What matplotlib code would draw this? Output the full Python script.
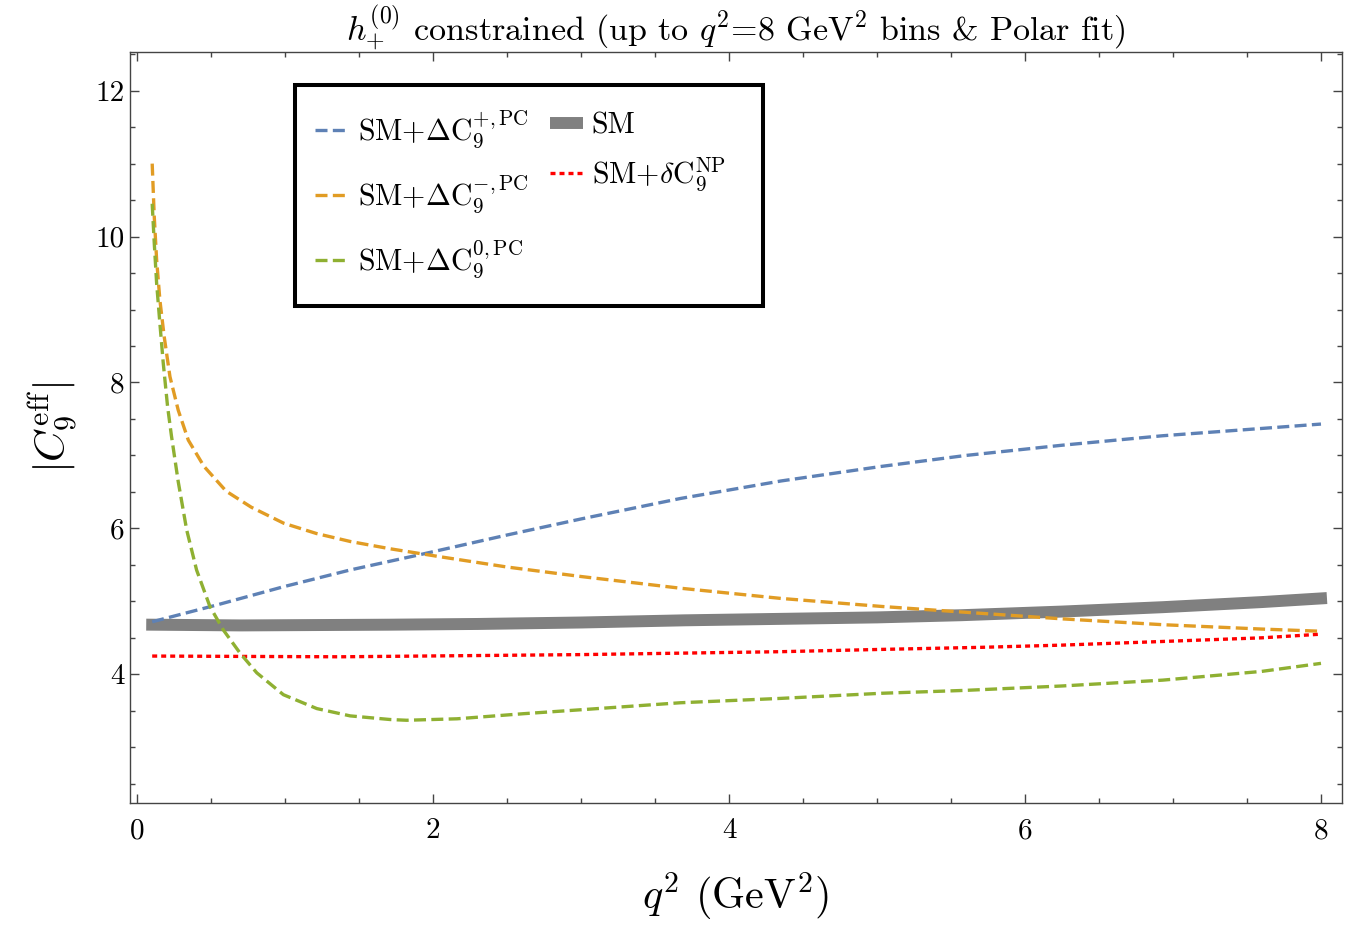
import matplotlib
matplotlib.use("Agg")
import matplotlib.pyplot as plt
from matplotlib.lines import Line2D
from matplotlib.patches import Rectangle
from matplotlib.ticker import MultipleLocator, FixedLocator

plt.rcParams['mathtext.fontset'] = 'cm'
plt.rcParams['font.family'] = 'serif'
plt.rcParams['font.serif'] = ['cmr10', 'DejaVu Serif']
plt.rcParams['axes.formatter.use_mathtext'] = True

# ---- data ----
x_plus = [0.1, 0.536, 0.987, 1.438, 1.91, 2.5, 3.0, 3.67, 4.35, 5.03, 5.6, 6.25, 6.93, 7.6, 8.0]
y_plus = [4.72, 4.95, 5.20, 5.43, 5.64, 5.91, 6.13, 6.41, 6.65, 6.85, 7.00, 7.14, 7.27, 7.37, 7.43]

x_minus = [0.1, 0.114, 0.13, 0.152, 0.181, 0.22, 0.276, 0.344, 0.45, 0.6, 0.77, 0.99, 1.21,
           1.44, 1.71, 2.05, 2.5, 3.0, 3.67, 4.35, 5.03, 5.6, 6.25, 6.93, 7.6, 8.0]
y_minus = [11.00, 10.27, 9.68, 9.13, 8.63, 8.08, 7.62, 7.21, 6.85, 6.51, 6.29, 6.07, 5.93,
           5.82, 5.72, 5.61, 5.47, 5.34, 5.18, 5.04, 4.93, 4.85, 4.76, 4.68, 4.62, 4.59]

x_zero = [0.1, 0.114, 0.13, 0.152, 0.175, 0.204, 0.23, 0.276, 0.333, 0.40, 0.49, 0.58, 0.694,
          0.807, 0.987, 1.213, 1.438, 1.709, 1.82, 2.16, 2.61, 3.04, 3.67, 4.35, 5.03, 5.6,
          6.25, 6.93, 7.6, 8.0]
y_zero = [10.45, 9.91, 9.36, 8.81, 8.26, 7.67, 7.27, 6.64, 5.98, 5.43, 4.93, 4.61, 4.29,
          4.02, 3.72, 3.53, 3.43, 3.38, 3.37, 3.39, 3.46, 3.52, 3.61, 3.67, 3.74, 3.78,
          3.84, 3.92, 4.04, 4.15]

x_sm = [0.1, 0.7, 1.7, 2.3, 3.0, 3.7, 4.35, 5.0, 5.57, 6.25, 6.93, 7.6, 8.0]
y_sm = [4.68, 4.67, 4.68, 4.69, 4.71, 4.74, 4.76, 4.78, 4.81, 4.86, 4.92, 4.99, 5.04]

x_np = [0.1, 1.37, 3.0, 4.35, 5.0, 5.71, 6.25, 6.93, 7.6, 8.0]
y_np = [4.25, 4.24, 4.27, 4.31, 4.34, 4.37, 4.40, 4.45, 4.50, 4.55]

labels = [r'SM+$\Delta\mathrm{C}_9^{+,\mathrm{PC}}$',
          r'SM+$\Delta\mathrm{C}_9^{-,\mathrm{PC}}$',
          r'SM+$\Delta\mathrm{C}_9^{0,\mathrm{PC}}$',
          'SM',
          r'SM+$\delta\mathrm{C}_9^{\mathrm{NP}}$']

x_ticks = [0, 2, 4, 6, 8]
y_ticks = [4, 6, 8, 10, 12]

c_blue, c_orange, c_green, c_gray, c_red = '#5E81B5', '#E19C24', '#8FB032', '#808080', '#FF0000'

fig = plt.figure(figsize=(13.45, 9.3), dpi=100)
ax = fig.add_axes([130 / 1345, 1 - 802.7 / 930, 1211.7 / 1345, 750.7 / 930])

dash = (3.6, 1.6)
lw = 2.4
ax.plot(x_sm, y_sm, color=c_gray, lw=8.6, solid_capstyle='projecting', zorder=2)
ax.plot(x_np, y_np, color=c_red, lw=lw, dashes=(1.5, 1.2), dash_capstyle='butt', zorder=3)
ax.plot(x_plus, y_plus, color=c_blue, lw=lw, dashes=dash, dash_capstyle='butt', zorder=3)
ax.plot(x_minus, y_minus, color=c_orange, lw=lw, dashes=dash, dash_capstyle='butt', zorder=3)
ax.plot(x_zero, y_zero, color=c_green, lw=lw, dashes=dash, dash_capstyle='butt', zorder=3)

ax.set_xlim(-0.05, 8.14)
ax.set_ylim(2.24, 12.53)
ax.xaxis.set_major_locator(FixedLocator(x_ticks))
ax.yaxis.set_major_locator(FixedLocator(y_ticks))
ax.xaxis.set_minor_locator(MultipleLocator(0.5))
ax.yaxis.set_minor_locator(MultipleLocator(0.5))
ax.set_xticklabels([str(v) for v in x_ticks])
ax.set_yticklabels([str(v) for v in y_ticks])

spine_c = '#444444'
for s in ax.spines.values():
    s.set_color(spine_c)
    s.set_linewidth(1.0)
ax.tick_params(which='both', direction='in', top=True, right=True, color=spine_c,
               labelcolor='black', labelsize=21, width=1.0)
ax.tick_params(which='major', length=6.5)
ax.tick_params(axis='x', which='major', pad=11)
ax.tick_params(axis='y', which='major', pad=4)
ax.tick_params(which='minor', length=3.6)

ax.set_xlabel(r'$q^2$ (GeV$^2$)', fontsize=30.5, labelpad=19)
ax.set_ylabel(r'$|C_9^{\rm eff}|$', fontsize=31, labelpad=10)
ax.set_title(r'$h_{+}^{(0)}$ constrained (up to $q^2$=8 GeV$^2$ bins & Polar fit)',
             fontsize=24.5, pad=4)

# legend
h_plus = Line2D([], [], color=c_blue, lw=lw, dashes=dash, dash_capstyle='butt')
h_minus = Line2D([], [], color=c_orange, lw=lw, dashes=dash, dash_capstyle='butt')
h_zero = Line2D([], [], color=c_green, lw=lw, dashes=dash, dash_capstyle='butt')
h_sm = Line2D([], [], color=c_gray, lw=8.6, solid_capstyle='butt')
h_np = Line2D([], [], color=c_red, lw=lw, dashes=(1.5, 1.2), dash_capstyle='butt')

leg1 = ax.legend([h_plus, h_minus, h_zero], labels[:3], loc='upper left',
                 bbox_to_anchor=(0.1527, 0.925), frameon=False, fontsize=21.5,
                 handlelength=1.0, handletextpad=0.43, labelspacing=0.8, borderpad=0,
                 borderaxespad=0)
ax.add_artist(leg1)
leg2 = ax.legend([h_sm, h_np], labels[3:], loc='upper left',
                 bbox_to_anchor=(0.3466, 0.9206), frameon=False, fontsize=21.5,
                 handlelength=1.1, handletextpad=0.3, labelspacing=0.55, borderpad=0,
                 borderaxespad=0)
ax.add_patch(Rectangle((0.1364, 0.6613), 0.5224 - 0.1364, 0.9564 - 0.6613,
                       transform=ax.transAxes, fill=False, ec='black', lw=2.9, zorder=5))

fig.savefig('out.png', dpi=100)
